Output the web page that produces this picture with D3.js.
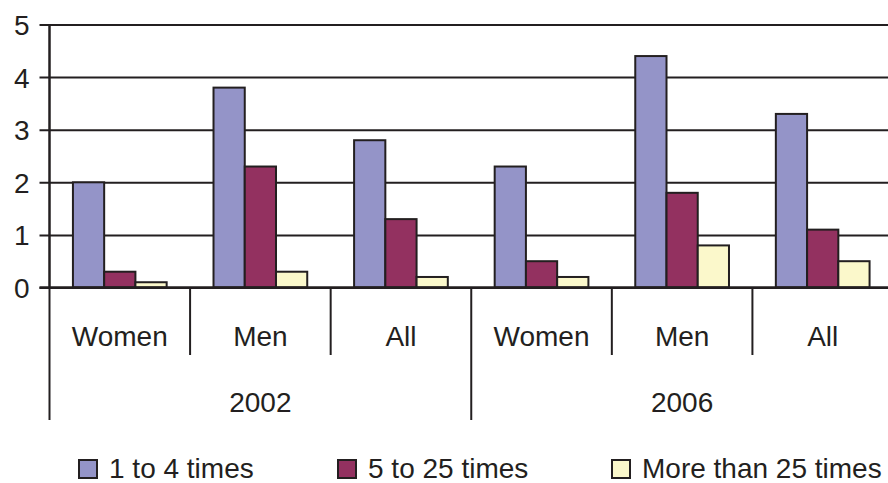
<!DOCTYPE html>
<html>
<head>
<meta charset="utf-8">
<script src="https://cdn.jsdelivr.net/npm/d3@7"></script>
<style>
  body { margin: 0; background: #fff; }
  text { font-family: "Liberation Sans", Arial, sans-serif; fill: #231f20; }
</style>
</head>
<body>
<svg id="chart" width="888" height="483"></svg>
<script>
// chart data
const years = ["2002", "2006"];
const groups = ["Women", "Men", "All"];
const seriesNames = ["1 to 4 times", "5 to 25 times", "More than 25 times"];
const oneToFour = [2.0, 3.8, 2.8, 2.3, 4.4, 3.3];
const fiveTo25 = [0.3, 2.3, 1.3, 0.5, 1.8, 1.1];
const over25 = [0.1, 0.3, 0.2, 0.2, 0.8, 0.5];
const yTicks = [0, 1, 2, 3, 4, 5];

const colors = ["#9494c8", "#933160", "#fbf8cb"];
const ink = "#231f20";

// one entry per category: year + group
const cats = [];
years.forEach(y => groups.forEach(g => cats.push(y + "|" + g)));
const seriesValues = [oneToFour, fiveTo25, over25];

// plot area runs a little past the right edge, as in the original
const plotLeft = 49.5, plotRight = 893, plotTop = 24.5, plotBottom = 287.5;

const svg = d3.select("#chart");

const xScale = d3.scaleBand()
                 .domain(cats)
                 .range([plotLeft, plotRight]);
// excel style gap width 150%
const barW = xScale.bandwidth() / 4.5;
const xSeries = d3.scaleBand()
                  .domain(seriesNames)
                  .range([0, barW * 3])
                  .padding(0);
const yScale = d3.scaleLinear()
                 .domain([0, 5])
                 .range([plotBottom, plotTop]);

// gridlines + y labels
const yAxis = d3.axisLeft(yScale)
                .tickValues(yTicks)
                .tickFormat(d3.format("d"))
                .tickSize(-(plotRight - plotLeft))
                .tickSizeOuter(0)
                .tickPadding(20);
const yG = svg.append("g")
              .attr("transform", "translate(" + plotLeft + ",0)")
              .call(yAxis);
yG.select(".domain").remove();
yG.selectAll(".tick line")
  .attr("x1", -10)
  .attr("stroke", ink)
  .attr("stroke-width", 2);
yG.selectAll(".tick text")
  .attr("font-size", 28)
  .attr("fill", ink)
  .attr("dy", "0.36em");

// bars
seriesValues.forEach((vals, s) => {
  svg.append("g")
     .selectAll("rect")
     .data(vals)
     .enter()
     .append("rect")
     .attr("x", (d, i) => xScale(cats[i]) + (xScale.bandwidth() - barW * 3) / 2 + xSeries(seriesNames[s]))
     .attr("y", d => yScale(d))
     .attr("width", xSeries.bandwidth())
     .attr("height", d => yScale(0) - yScale(d))
     .attr("fill", colors[s])
     .attr("stroke", ink)
     .attr("stroke-width", 2);
});

// axis lines
svg.append("line")
   .attr("x1", plotLeft).attr("x2", plotLeft)
   .attr("y1", plotTop).attr("y2", plotBottom)
   .attr("stroke", ink).attr("stroke-width", 2.5);
svg.append("line")
   .attr("x1", plotLeft - 10).attr("x2", plotRight)
   .attr("y1", plotBottom).attr("y2", plotBottom)
   .attr("stroke", ink).attr("stroke-width", 2.5);

// category separators: short between groups, long between years
cats.forEach((c, i) => {
  const long = i % groups.length === 0;
  svg.append("line")
     .attr("x1", xScale(c)).attr("x2", xScale(c))
     .attr("y1", plotBottom).attr("y2", long ? 420 : 355)
     .attr("stroke", ink).attr("stroke-width", 2);
});

// group labels
svg.append("g")
   .selectAll("text")
   .data(cats)
   .enter()
   .append("text")
   .attr("x", d => xScale(d) + xScale.bandwidth() / 2)
   .attr("y", 336)
   .attr("dy", "0.36em")
   .attr("text-anchor", "middle")
   .attr("font-size", 28)
   .text(d => d.split("|")[1]);

// year labels
svg.append("g")
   .selectAll("text")
   .data(years)
   .enter()
   .append("text")
   .attr("x", (d, i) => {
     const first = xScale(d + "|" + groups[0]);
     const last = xScale(d + "|" + groups[groups.length - 1]) + xScale.bandwidth();
     return (first + last) / 2;
   })
   .attr("y", 402)
   .attr("dy", "0.36em")
   .attr("text-anchor", "middle")
   .attr("font-size", 28)
   .text(d => d);

// legend
const legendX = [79, 338, 612];
const legend = svg.append("g")
                  .selectAll("g")
                  .data(seriesNames)
                  .enter()
                  .append("g")
                  .attr("transform", (d, i) => "translate(" + legendX[i] + ",460)");
legend.append("rect")
      .attr("width", 18)
      .attr("height", 18)
      .attr("fill", (d, i) => colors[i])
      .attr("stroke", ink)
      .attr("stroke-width", 2);
legend.append("text")
      .attr("x", 30)
      .attr("y", 9)
      .attr("dy", "0.32em")
      .attr("font-size", 28)
      .text(d => d);
</script>
</body>
</html>
